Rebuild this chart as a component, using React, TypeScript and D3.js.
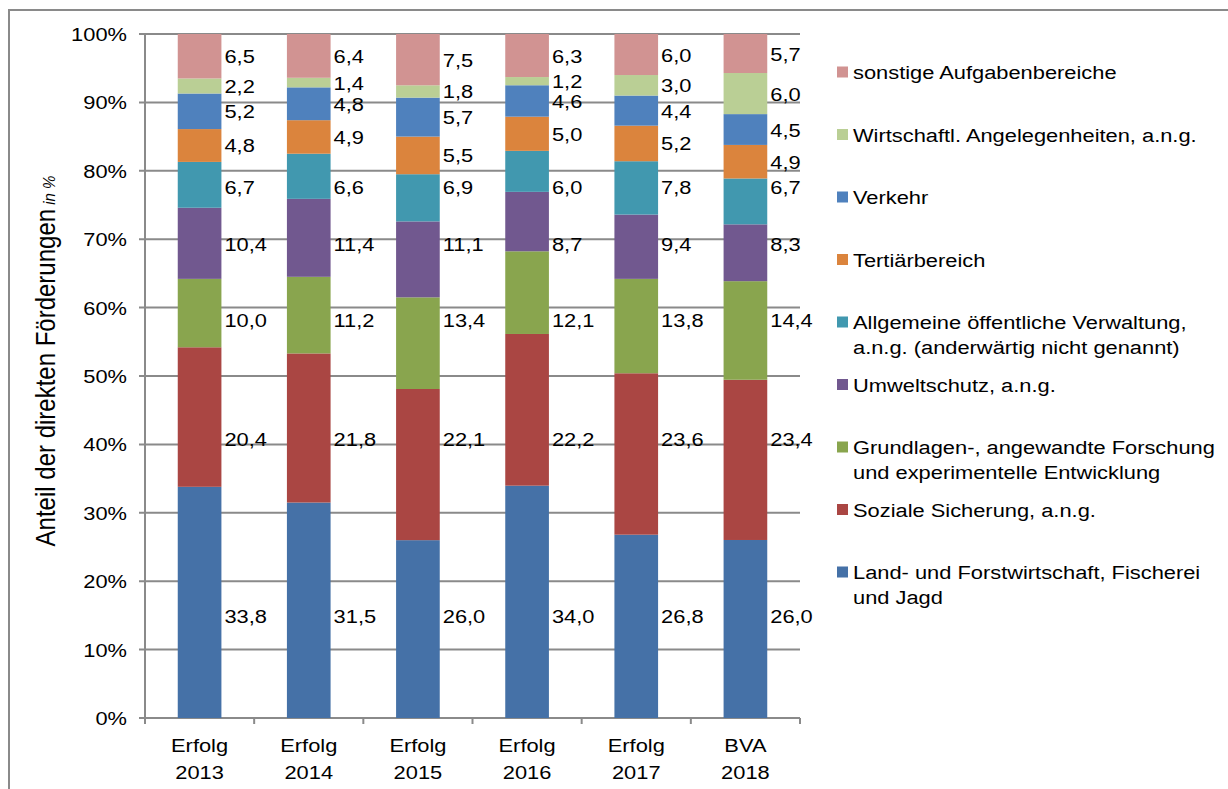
import React from "react";
import * as d3 from "d3";

// Kategorien (x-Achse), zweizeilig
const categories = ["Erfolg 2013", "Erfolg 2014", "Erfolg 2015", "Erfolg 2016", "Erfolg 2017", "BVA 2018"];

// Serien von unten nach oben (Anteile in %)
const landForst = [33.8, 31.5, 26.0, 34.0, 26.8, 26.0];
const sozial = [20.4, 21.8, 22.1, 22.2, 23.6, 23.4];
const forschung = [10.0, 11.2, 13.4, 12.1, 13.8, 14.4];
const umwelt = [10.4, 11.4, 11.1, 8.7, 9.4, 8.3];
const verwaltung = [6.7, 6.6, 6.9, 6.0, 7.8, 6.7];
const tertiaer = [4.8, 4.9, 5.5, 5.0, 5.2, 4.9];
const verkehr = [5.2, 4.8, 5.7, 4.6, 4.4, 4.5];
const wirtschaft = [2.2, 1.4, 1.8, 1.2, 3.0, 6.0];
const sonstige = [6.5, 6.4, 7.5, 6.3, 6.0, 5.7];

const seriesKeys = ["land", "sozial", "forschung", "umwelt", "verwaltung", "tertiaer", "verkehr", "wirtschaft", "sonstige"];
const seriesValues = [landForst, sozial, forschung, umwelt, verwaltung, tertiaer, verkehr, wirtschaft, sonstige];
const seriesColors = ["#4571a7", "#aa4643", "#89a54e", "#71588f", "#4198af", "#db843d", "#4f81bd", "#bacf95", "#d19392"];

// Legende von oben nach unten
const legendLabels = [
  ["sonstige Aufgabenbereiche"],
  ["Wirtschaftl. Angelegenheiten, a.n.g."],
  ["Verkehr"],
  ["Tertiärbereich"],
  ["Allgemeine öffentliche Verwaltung,", "a.n.g. (anderwärtig nicht genannt)"],
  ["Umweltschutz, a.n.g."],
  ["Grundlagen-, angewandte Forschung", "und experimentelle Entwicklung"],
  ["Soziale Sicherung, a.n.g."],
  ["Land- und Forstwirtschaft, Fischerei", "und Jagd"],
];

const yTicks = [0, 0.1, 0.2, 0.3, 0.4, 0.5, 0.6, 0.7, 0.8, 0.9, 1];

const W = 1228;
const H = 789;
const plot = { left: 145, right: 800, top: 34, bottom: 718 };
const FONT = "'Liberation Sans', Arial, sans-serif";
const SX = 1.15; // Text im Original ist horizontal gestreckt
const GRID = "#8a8a8a";
const ALIGNED = 5; // untere Serien: Beschriftungen in einer Zeile

// Text mit horizontaler Streckung
const T = ({ x, y, anchor = "start", size = 19, children }: any) => (
  <g transform={`translate(${x},${y}) scale(${SX},1)`}>
    <text fontFamily={FONT} fontSize={size} textAnchor={anchor} fill="#000">
      {children}
    </text>
  </g>
);

export default function App() {
  const table = categories.map((c, i) => {
    const row: any = { cat: c };
    seriesKeys.forEach((k, s) => (row[k] = seriesValues[s][i]));
    return row;
  });

  const stacked = d3.stack().keys(seriesKeys).offset(d3.stackOffsetExpand)(table);

  const x = d3
    .scaleBand()
    .domain(categories)
    .range([plot.left, plot.right])
    .paddingInner(0.6)
    .paddingOuter(0.3);
  const step = x.step();
  const y = d3.scaleLinear().domain([0, 1]).range([plot.bottom, plot.top]);

  const fmt = (v: number) => d3.format(".1f")(v).replace(".", ",");
  const pct = d3.format(".0%");

  // Beschriftungshöhe: untere Serien auf gemeinsamer Zeile (Mittel der Segmentmitten)
  const labelY = (s: number, d: any) => {
    if (s < ALIGNED) {
      const m = d3.mean(stacked[s], (e: any) => (e[0] + e[1]) / 2) as number;
      return y(m);
    }
    return (y(d[0]) + y(d[1])) / 2;
  };

  return (
    <svg width={W} height={H} style={{ position: "absolute", left: 0, top: 0, background: "#fff" }}>
      <rect x={9} y={10} width={1400} height={1000} fill="#fff" stroke={GRID} strokeWidth={2} />

      {/* Gitternetz */}
      {yTicks.map((t) => (
        <g key={t}>
          <line x1={plot.left - 6} x2={plot.right} y1={y(t)} y2={y(t)} stroke={GRID} strokeWidth={2} />
          <T x={127} y={y(t) + 7} anchor="end">
            {pct(t)}
          </T>
        </g>
      ))}
      <line x1={plot.left} x2={plot.left} y1={plot.top} y2={plot.bottom} stroke={GRID} strokeWidth={2} />
      {d3.range(categories.length + 1).map((i) => (
        <line
          key={i}
          x1={plot.left + i * step}
          x2={plot.left + i * step}
          y1={plot.bottom}
          y2={plot.bottom + 6}
          stroke={GRID}
          strokeWidth={2}
        />
      ))}

      {/* Balken */}
      {stacked.map((layer, s) => (
        <g key={layer.key}>
          {layer.map((d, i) => (
            <rect
              key={i}
              x={x(categories[i])}
              width={x.bandwidth()}
              y={y(d[1])}
              height={y(d[0]) - y(d[1])}
              fill={seriesColors[s]}
            />
          ))}
        </g>
      ))}

      {/* Datenbeschriftungen */}
      {stacked.map((layer, s) =>
        layer.map((d, i) => (
          <T key={`${s}-${i}`} x={(x(categories[i]) as number) + x.bandwidth() + 3} y={labelY(s, d) + 7}>
            {fmt(seriesValues[s][i])}
          </T>
        ))
      )}

      {/* Kategorien */}
      {categories.map((c) => {
        const cx = (x(c) as number) + x.bandwidth() / 2;
        const [a, b] = c.split(" ");
        return (
          <g key={c}>
            <T x={cx} y={752} anchor="middle">{a}</T>
            <T x={cx} y={779} anchor="middle">{b}</T>
          </g>
        );
      })}

      {/* Achsentitel */}
      <g transform={`translate(55,${(plot.top + plot.bottom) / 2 - 15}) scale(${SX},1) rotate(-90)`}>
        <text fontFamily={FONT} fontSize={24} textAnchor="middle" fill="#000">
          Anteil der direkten Förderungen
          <tspan fontSize={15} fontStyle="italic"> in %</tspan>
        </text>
      </g>

      {/* Legende */}
      {legendLabels.map((lines, i) => {
        const cy = 72 + i * 62.5;
        const s = seriesKeys.length - 1 - i;
        return (
          <g key={i}>
            <rect x={837} y={cy - 5.5} width={11} height={11} fill={seriesColors[s]} />
            {lines.map((ln, j) => (
              <T key={j} x={853} y={cy + 7 + j * 25}>{ln}</T>
            ))}
          </g>
        );
      })}
    </svg>
  );
}
